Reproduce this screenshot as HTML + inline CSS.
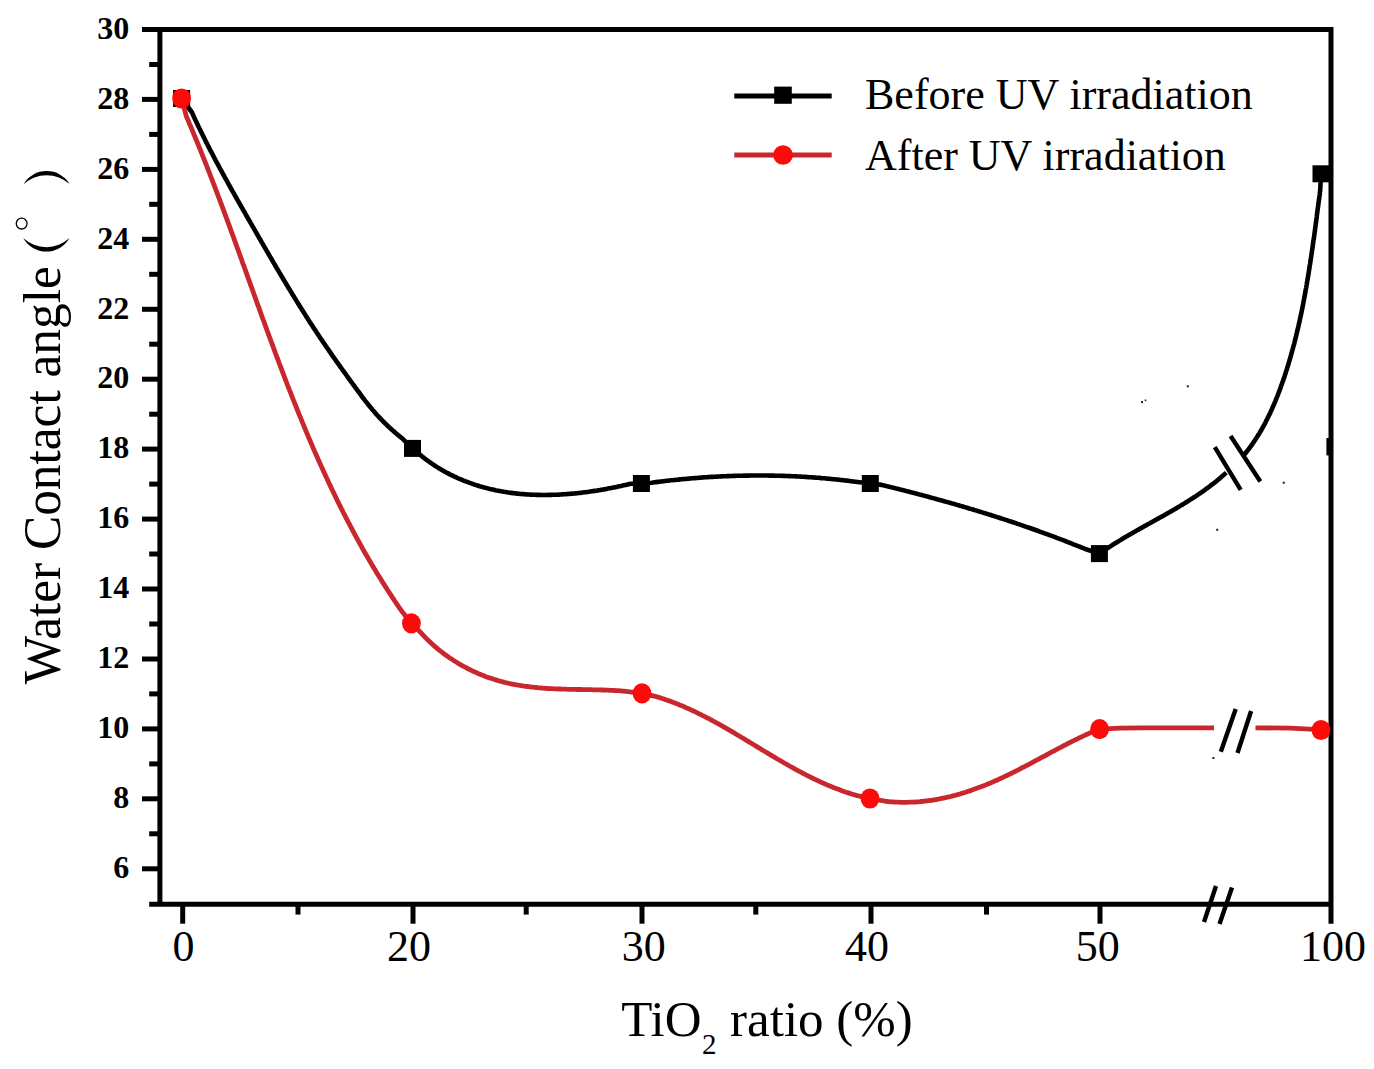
<!DOCTYPE html><html><head><meta charset="utf-8"><style>html,body{margin:0;padding:0;background:#fff;}svg{display:block;}</style></head><body><svg width="1374" height="1069" viewBox="0 0 1374 1069">
<rect width="1374" height="1069" fill="#fff"/>
<g stroke="#000" stroke-width="5" fill="none">
<path d="M142 29.5 H1333.5 M159.9 27 V906.7 M149.2 904.2 H1333.5 M1331 27 V923.7"/>
<path d="M142 868.8 H159.9"/>
<path d="M149.2 833.8 H159.9"/>
<path d="M142 798.8 H159.9"/>
<path d="M149.2 763.9 H159.9"/>
<path d="M142 728.9 H159.9"/>
<path d="M149.2 693.9 H159.9"/>
<path d="M142 659.0 H159.9"/>
<path d="M149.2 624.0 H159.9"/>
<path d="M142 589.0 H159.9"/>
<path d="M149.2 554.0 H159.9"/>
<path d="M142 519.1 H159.9"/>
<path d="M149.2 484.1 H159.9"/>
<path d="M142 449.1 H159.9"/>
<path d="M149.2 414.2 H159.9"/>
<path d="M142 379.2 H159.9"/>
<path d="M149.2 344.2 H159.9"/>
<path d="M142 309.3 H159.9"/>
<path d="M149.2 274.3 H159.9"/>
<path d="M142 239.3 H159.9"/>
<path d="M149.2 204.3 H159.9"/>
<path d="M142 169.4 H159.9"/>
<path d="M149.2 134.4 H159.9"/>
<path d="M142 99.4 H159.9"/>
<path d="M149.2 64.5 H159.9"/>
<path d="M182.7 904.2 V923.7"/>
<path d="M413 904.2 V923.7"/>
<path d="M642 904.2 V923.7"/>
<path d="M871 904.2 V923.7"/>
<path d="M1100 904.2 V923.7"/>
<path d="M298 904.2 V914.6"/>
<path d="M526.2 904.2 V914.6"/>
<path d="M755.8 904.2 V914.6"/>
<path d="M986.5 904.2 V914.6"/>
</g>
<rect x="1326.4" y="438" width="3" height="17.4" fill="#000"/>
<g font-family="Liberation Serif" font-weight="bold" font-size="32" text-anchor="end" fill="#000">
<text x="129.3" y="878.0">6</text>
<text x="129.3" y="808.0">8</text>
<text x="129.3" y="738.1">10</text>
<text x="129.3" y="668.2">12</text>
<text x="129.3" y="598.2">14</text>
<text x="129.3" y="528.3">16</text>
<text x="129.3" y="458.3">18</text>
<text x="129.3" y="388.4">20</text>
<text x="129.3" y="318.5">22</text>
<text x="129.3" y="248.5">24</text>
<text x="129.3" y="178.6">26</text>
<text x="129.3" y="108.6">28</text>
<text x="129.3" y="38.7">30</text>
</g>
<g font-family="Liberation Serif" font-size="44" fill="#000">
<text x="172.5" y="960.5">0</text>
<text x="387.0" y="960.5">20</text>
<text x="621.7" y="960.5">30</text>
<text x="845.1" y="960.5">40</text>
<text x="1075.7" y="960.5">50</text>
<text x="1300.0" y="960.5">100</text>
</g>
<g fill="none" stroke-linejoin="round" stroke-linecap="butt">
<path d="M181.6 98.5 L191.7 112.0 L192.4 113.4 L193.0 114.8 L193.6 116.1 L194.2 117.5 L194.9 118.9 L195.5 120.2 L196.1 121.6 L196.8 122.9 L197.4 124.3 L198.1 125.6 L198.7 127.0 L199.4 128.3 L200.0 129.7 L200.7 131.0 L201.3 132.4 L202.0 133.7 L202.7 135.1 L203.3 136.4 L204.0 137.7 L204.7 139.1 L205.3 140.4 L206.0 141.8 L206.7 143.1 L207.4 144.4 L208.0 145.8 L208.7 147.1 L209.4 148.4 L210.1 149.8 L210.8 151.1 L211.5 152.4 L212.2 153.7 L212.9 155.1 L213.5 156.4 L214.2 157.7 L214.9 159.0 L215.6 160.4 L216.3 161.7 L217.1 163.0 L217.8 164.3 L218.5 165.6 L219.2 167.0 L219.9 168.3 L220.6 169.6 L221.3 170.9 L222.0 172.2 L222.7 173.5 L223.5 174.9 L224.2 176.2 L224.9 177.5 L225.6 178.8 L226.4 180.1 L227.1 181.4 L227.8 182.7 L228.5 184.0 L229.3 185.4 L230.0 186.7 L230.7 188.0 L231.5 189.3 L232.2 190.6 L232.9 191.9 L233.7 193.2 L234.4 194.5 L235.1 195.8 L235.9 197.1 L236.6 198.4 L237.3 199.7 L238.1 201.0 L238.8 202.3 L239.6 203.6 L240.3 204.9 L241.0 206.2 L241.8 207.5 L242.5 208.8 L243.3 210.1 L244.0 211.4 L244.8 212.7 L245.5 214.0 L246.2 215.3 L247.0 216.6 L247.7 217.9 L248.5 219.2 L249.2 220.5 L250.0 221.8 L250.7 223.1 L251.5 224.4 L252.2 225.7 L253.0 227.0 L253.7 228.3 L254.5 229.6 L255.2 230.9 L256.0 232.2 L256.7 233.5 L257.4 234.8 L258.2 236.1 L258.9 237.4 L259.7 238.7 L260.4 240.0 L261.2 241.3 L261.9 242.6 L262.7 243.9 L263.4 245.2 L264.2 246.5 L264.9 247.8 L265.7 249.1 L266.4 250.4 L267.2 251.7 L267.9 253.0 L268.7 254.3 L269.5 255.6 L270.2 256.9 L271.0 258.2 L271.7 259.5 L272.5 260.8 L273.2 262.1 L274.0 263.4 L274.8 264.7 L275.5 266.0 L276.3 267.3 L277.0 268.5 L277.8 269.8 L278.6 271.1 L279.3 272.4 L280.1 273.7 L280.8 275.0 L281.6 276.3 L282.4 277.6 L283.1 278.9 L283.9 280.1 L284.7 281.4 L285.5 282.7 L286.2 284.0 L287.0 285.3 L287.8 286.6 L288.5 287.9 L289.3 289.1 L290.1 290.4 L290.9 291.7 L291.7 293.0 L292.4 294.3 L293.2 295.5 L294.0 296.8 L294.8 298.1 L295.6 299.4 L296.3 300.6 L297.1 301.9 L297.9 303.2 L298.7 304.4 L299.5 305.7 L300.3 307.0 L301.1 308.3 L301.9 309.5 L302.7 310.8 L303.5 312.1 L304.3 313.3 L305.1 314.6 L305.9 315.9 L306.7 317.1 L307.5 318.4 L308.3 319.6 L309.1 320.9 L309.9 322.2 L310.7 323.4 L311.6 324.7 L312.4 325.9 L313.2 327.2 L314.0 328.4 L314.8 329.7 L315.7 330.9 L316.5 332.2 L317.3 333.4 L318.1 334.7 L319.0 335.9 L319.8 337.2 L320.6 338.4 L321.5 339.6 L322.3 340.9 L323.1 342.1 L324.0 343.3 L324.8 344.6 L325.7 345.8 L326.5 347.1 L327.4 348.3 L328.2 349.5 L329.1 350.7 L329.9 352.0 L330.8 353.2 L331.6 354.4 L332.5 355.7 L333.3 356.9 L334.2 358.1 L335.1 359.3 L335.9 360.6 L336.8 361.8 L337.6 363.0 L338.5 364.2 L339.4 365.4 L340.2 366.6 L341.1 367.9 L342.0 369.1 L342.9 370.3 L343.7 371.5 L344.6 372.7 L345.5 373.9 L346.4 375.1 L347.2 376.4 L348.1 377.6 L349.0 378.8 L349.9 380.0 L350.7 381.2 L351.6 382.4 L352.5 383.6 L353.4 384.8 L354.3 386.0 L355.1 387.2 L356.0 388.4 L356.9 389.6 L357.8 390.8 L358.7 392.0 L359.6 393.2 L360.5 394.4 L361.3 395.6 L362.2 396.8 L363.1 398.0 L364.0 399.2 L364.9 400.4 L365.9 401.6 L366.8 402.7 L367.7 403.9 L368.6 405.1 L369.6 406.2 L370.5 407.4 L371.5 408.5 L372.4 409.7 L373.4 410.8 L374.4 411.9 L375.3 413.0 L376.3 414.2 L377.3 415.3 L378.4 416.4 L379.4 417.5 L380.4 418.5 L381.4 419.6 L382.5 420.7 L383.5 421.8 L384.6 422.8 L385.7 423.9 L386.7 424.9 L387.8 426.0 L388.9 427.0 L390.0 428.0 L391.1 429.0 L392.2 430.0 L393.4 431.0 L394.5 432.0 L395.6 433.0 L396.8 434.0 L398.0 435.0 L399.1 435.9 L400.3 436.9 L401.5 437.8 L402.7 438.8 L412.5 448.4 L420.1 454.8 L421.3 455.8 L422.5 456.8 L423.7 457.7 L425.0 458.7 L426.2 459.6 L427.5 460.5 L428.7 461.4 L430.0 462.3 L431.2 463.2 L432.5 464.1 L433.8 464.9 L435.0 465.8 L436.3 466.6 L437.6 467.4 L438.9 468.2 L440.2 469.0 L441.5 469.7 L442.8 470.5 L444.1 471.2 L445.4 472.0 L446.8 472.7 L448.1 473.4 L449.4 474.1 L450.7 474.8 L452.1 475.4 L453.4 476.1 L454.8 476.7 L456.1 477.3 L457.5 478.0 L458.8 478.6 L460.2 479.1 L461.6 479.7 L462.9 480.3 L464.3 480.8 L465.7 481.4 L467.1 481.9 L468.5 482.4 L469.8 482.9 L471.2 483.4 L472.6 483.9 L474.0 484.4 L475.4 484.9 L476.8 485.3 L478.2 485.7 L479.7 486.2 L481.1 486.6 L482.5 487.0 L483.9 487.4 L485.3 487.8 L486.8 488.1 L488.2 488.5 L489.6 488.9 L491.1 489.2 L492.5 489.5 L493.9 489.8 L495.4 490.2 L496.8 490.5 L498.3 490.7 L499.7 491.0 L501.2 491.3 L502.6 491.5 L504.1 491.8 L505.5 492.0 L507.0 492.3 L508.5 492.5 L509.9 492.7 L511.4 492.9 L512.9 493.1 L514.3 493.3 L515.8 493.4 L517.3 493.6 L518.8 493.7 L520.2 493.9 L521.7 494.0 L523.2 494.1 L524.7 494.3 L526.2 494.4 L527.6 494.5 L529.1 494.5 L530.6 494.6 L532.1 494.7 L533.6 494.8 L535.1 494.8 L536.6 494.9 L538.0 494.9 L539.5 494.9 L541.0 495.0 L542.5 495.0 L544.0 495.0 L545.5 495.0 L547.0 495.0 L548.5 494.9 L550.0 494.9 L551.5 494.9 L553.0 494.8 L554.5 494.8 L556.0 494.7 L557.5 494.7 L559.0 494.6 L560.5 494.5 L562.0 494.4 L563.5 494.3 L564.9 494.2 L566.4 494.1 L567.9 494.0 L569.4 493.9 L570.9 493.8 L572.4 493.6 L573.9 493.5 L575.4 493.4 L576.9 493.2 L578.4 493.0 L579.9 492.9 L581.4 492.7 L582.9 492.5 L584.3 492.3 L585.8 492.2 L587.3 492.0 L588.8 491.8 L590.3 491.5 L591.8 491.3 L593.2 491.1 L594.7 490.9 L596.2 490.7 L597.7 490.4 L599.1 490.2 L600.6 489.9 L602.1 489.7 L603.6 489.4 L605.0 489.2 L606.5 488.9 L607.9 488.6 L609.4 488.3 L610.9 488.1 L612.3 487.8 L613.8 487.5 L615.2 487.2 L616.7 486.9 L618.1 486.6 L619.6 486.3 L621.0 486.0 L622.5 485.6 L623.9 485.3 L625.3 485.0 L626.8 484.7 L628.2 484.3 L629.6 484.0 L631.1 483.7 L641.4 483.5 L651.7 482.7 L653.2 482.5 L654.7 482.3 L656.2 482.1 L657.6 481.9 L659.1 481.7 L660.6 481.5 L662.1 481.4 L663.6 481.2 L665.1 481.0 L666.5 480.8 L668.0 480.7 L669.5 480.5 L671.0 480.3 L672.5 480.2 L674.0 480.0 L675.4 479.9 L676.9 479.7 L678.4 479.6 L679.9 479.4 L681.4 479.3 L682.9 479.1 L684.3 479.0 L685.8 478.9 L687.3 478.7 L688.8 478.6 L690.3 478.5 L691.8 478.3 L693.3 478.2 L694.8 478.1 L696.2 478.0 L697.7 477.9 L699.2 477.7 L700.7 477.6 L702.2 477.5 L703.7 477.4 L705.2 477.3 L706.7 477.2 L708.1 477.1 L709.6 477.0 L711.1 476.9 L712.6 476.9 L714.1 476.8 L715.6 476.7 L717.1 476.6 L718.6 476.5 L720.1 476.5 L721.6 476.4 L723.0 476.3 L724.5 476.2 L726.0 476.2 L727.5 476.1 L729.0 476.1 L730.5 476.0 L732.0 476.0 L733.5 475.9 L735.0 475.9 L736.5 475.8 L738.0 475.8 L739.4 475.7 L740.9 475.7 L742.4 475.7 L743.9 475.6 L745.4 475.6 L746.9 475.6 L748.4 475.6 L749.9 475.5 L751.4 475.5 L752.9 475.5 L754.4 475.5 L755.9 475.5 L757.4 475.5 L758.8 475.5 L760.3 475.5 L761.8 475.5 L763.3 475.5 L764.8 475.5 L766.3 475.5 L767.8 475.5 L769.3 475.6 L770.8 475.6 L772.3 475.6 L773.8 475.6 L775.3 475.7 L776.7 475.7 L778.2 475.7 L779.7 475.8 L781.2 475.8 L782.7 475.9 L784.2 475.9 L785.7 476.0 L787.2 476.0 L788.7 476.1 L790.2 476.1 L791.7 476.2 L793.1 476.3 L794.6 476.3 L796.1 476.4 L797.6 476.5 L799.1 476.5 L800.6 476.6 L802.1 476.7 L803.6 476.8 L805.1 476.9 L806.6 477.0 L808.0 477.1 L809.5 477.2 L811.0 477.3 L812.5 477.4 L814.0 477.5 L815.5 477.6 L817.0 477.7 L818.5 477.8 L819.9 477.9 L821.4 478.1 L822.9 478.2 L824.4 478.3 L825.9 478.5 L827.4 478.6 L828.9 478.7 L830.4 478.9 L831.8 479.0 L833.3 479.2 L834.8 479.3 L836.3 479.5 L837.8 479.6 L839.3 479.8 L840.7 480.0 L842.2 480.1 L843.7 480.3 L845.2 480.5 L846.7 480.6 L848.2 480.8 L849.6 481.0 L851.1 481.2 L870.3 483.5 L881.7 484.9 L883.2 485.2 L884.6 485.6 L886.1 486.0 L887.5 486.3 L889.0 486.7 L890.4 487.0 L891.9 487.4 L893.3 487.8 L894.8 488.1 L896.3 488.5 L897.7 488.8 L899.2 489.2 L900.6 489.6 L902.1 489.9 L903.5 490.3 L905.0 490.7 L906.4 491.1 L907.9 491.4 L909.3 491.8 L910.8 492.2 L912.2 492.6 L913.7 492.9 L915.1 493.3 L916.6 493.7 L918.0 494.1 L919.5 494.5 L920.9 494.8 L922.4 495.2 L923.8 495.6 L925.3 496.0 L926.7 496.4 L928.2 496.8 L929.6 497.2 L931.1 497.6 L932.5 498.0 L933.9 498.4 L935.4 498.8 L936.8 499.2 L938.3 499.6 L939.7 500.0 L941.2 500.4 L942.6 500.8 L944.1 501.2 L945.5 501.6 L946.9 502.0 L948.4 502.4 L949.8 502.8 L951.3 503.2 L952.7 503.6 L954.2 504.0 L955.6 504.4 L957.0 504.9 L958.5 505.3 L959.9 505.7 L961.4 506.1 L962.8 506.5 L964.2 507.0 L965.7 507.4 L967.1 507.8 L968.5 508.2 L970.0 508.7 L971.4 509.1 L972.9 509.5 L974.3 510.0 L975.7 510.4 L977.2 510.8 L978.6 511.3 L980.0 511.7 L981.5 512.1 L982.9 512.6 L984.3 513.0 L985.8 513.5 L987.2 513.9 L988.6 514.4 L990.0 514.8 L991.5 515.3 L992.9 515.7 L994.3 516.2 L995.8 516.6 L997.2 517.1 L998.6 517.5 L1000.0 518.0 L1001.5 518.5 L1002.9 518.9 L1004.3 519.4 L1005.7 519.9 L1007.2 520.3 L1008.6 520.8 L1010.0 521.3 L1011.4 521.7 L1012.9 522.2 L1014.3 522.7 L1015.7 523.2 L1017.1 523.7 L1018.5 524.1 L1020.0 524.6 L1021.4 525.1 L1022.8 525.6 L1024.2 526.1 L1025.6 526.6 L1027.1 527.1 L1028.5 527.5 L1029.9 528.0 L1031.3 528.5 L1032.7 529.0 L1034.1 529.5 L1035.5 530.0 L1037.0 530.5 L1038.4 531.0 L1039.8 531.6 L1041.2 532.1 L1042.6 532.6 L1044.0 533.1 L1045.4 533.6 L1046.8 534.1 L1048.2 534.6 L1049.6 535.2 L1051.0 535.7 L1052.4 536.2 L1053.8 536.7 L1055.3 537.2 L1056.7 537.8 L1058.1 538.3 L1059.5 538.8 L1060.9 539.4 L1062.3 539.9 L1063.7 540.4 L1065.1 541.0 L1066.5 541.5 L1067.9 542.1 L1069.3 542.6 L1070.6 543.2 L1072.0 543.7 L1073.4 544.3 L1074.8 544.8 L1076.2 545.4 L1077.6 545.9 L1079.0 546.5 L1080.4 547.0 L1081.8 547.6 L1083.2 548.2 L1084.6 548.7 L1086.0 549.3 L1099.4 553.6 L1111.5 545.6 L1112.7 544.8 L1114.0 544.0 L1115.3 543.2 L1116.5 542.5 L1117.8 541.7 L1119.1 540.9 L1120.4 540.1 L1121.6 539.3 L1122.9 538.6 L1124.2 537.8 L1125.5 537.0 L1126.8 536.3 L1128.1 535.5 L1129.4 534.8 L1130.7 534.0 L1132.0 533.3 L1133.3 532.5 L1134.6 531.8 L1135.9 531.0 L1137.2 530.3 L1138.5 529.6 L1139.8 528.8 L1141.1 528.1 L1142.4 527.4 L1143.7 526.6 L1145.0 525.9 L1146.3 525.2 L1147.6 524.4 L1148.9 523.7 L1150.3 523.0 L1151.6 522.2 L1152.9 521.5 L1154.2 520.8 L1155.5 520.1 L1156.8 519.3 L1158.1 518.6 L1159.4 517.9 L1160.7 517.1 L1162.1 516.4 L1163.4 515.7 L1164.7 514.9 L1166.0 514.2 L1167.3 513.4 L1168.6 512.7 L1169.9 512.0 L1171.2 511.2 L1172.5 510.5 L1173.8 509.7 L1175.1 509.0 L1176.4 508.2 L1177.7 507.4 L1179.0 506.7 L1180.2 505.9 L1181.5 505.1 L1182.8 504.4 L1184.1 503.6 L1185.4 502.8 L1186.6 502.0 L1187.9 501.2 L1189.2 500.4 L1190.4 499.6 L1191.7 498.8 L1193.0 498.0 L1194.2 497.2 L1195.5 496.4 L1196.7 495.6 L1198.0 494.7 L1199.2 493.9 L1200.4 493.0 L1201.7 492.2 L1202.9 491.3 L1204.1 490.5 L1205.3 489.6 L1206.5 488.7 L1207.7 487.8 L1208.9 487.0 L1210.1 486.1 L1211.3 485.1 L1212.5 484.2 L1213.7 483.3 L1214.9 482.4 L1216.1 481.4 L1217.2 480.5 L1218.4 479.5 L1219.5 478.6 L1220.7 477.6 L1221.8 476.6 L1223.0 475.6 L1224.1 474.6 L1225.2 473.6 L1226.3 472.6" stroke="#000" stroke-width="4.6"/>
<path d="M1244.0 455.0 L1245.0 453.8 L1245.9 452.7 L1246.8 451.5 L1247.8 450.3 L1248.7 449.1 L1249.6 447.9 L1250.5 446.7 L1251.3 445.5 L1252.2 444.3 L1253.0 443.1 L1253.9 441.9 L1254.7 440.6 L1255.5 439.4 L1256.3 438.2 L1257.1 436.9 L1257.9 435.6 L1258.7 434.4 L1259.5 433.1 L1260.2 431.8 L1261.0 430.6 L1261.7 429.3 L1262.4 428.0 L1263.2 426.7 L1263.9 425.4 L1264.6 424.1 L1265.3 422.8 L1265.9 421.5 L1266.6 420.2 L1267.3 418.8 L1267.9 417.5 L1268.6 416.2 L1269.2 414.9 L1269.9 413.5 L1270.5 412.2 L1271.1 410.8 L1271.7 409.5 L1272.3 408.1 L1272.9 406.8 L1273.5 405.4 L1274.1 404.1 L1274.7 402.7 L1275.3 401.3 L1275.8 399.9 L1276.4 398.6 L1276.9 397.2 L1277.5 395.8 L1278.0 394.4 L1278.5 393.0 L1279.1 391.7 L1279.6 390.3 L1280.1 388.9 L1280.6 387.5 L1281.1 386.1 L1281.6 384.7 L1282.1 383.3 L1282.6 381.9 L1283.1 380.5 L1283.6 379.1 L1284.1 377.7 L1284.6 376.2 L1285.0 374.8 L1285.5 373.4 L1285.9 372.0 L1286.4 370.6 L1286.9 369.2 L1287.3 367.7 L1287.7 366.3 L1288.2 364.9 L1288.6 363.5 L1289.0 362.0 L1289.5 360.6 L1289.9 359.2 L1290.3 357.7 L1290.7 356.3 L1291.1 354.9 L1291.5 353.4 L1291.9 352.0 L1292.3 350.5 L1292.7 349.1 L1293.1 347.7 L1293.5 346.2 L1293.9 344.8 L1294.3 343.3 L1294.6 341.9 L1295.0 340.4 L1295.4 339.0 L1295.7 337.5 L1296.1 336.1 L1296.4 334.6 L1296.8 333.2 L1297.1 331.7 L1297.5 330.2 L1297.8 328.8 L1298.2 327.3 L1298.5 325.9 L1298.8 324.4 L1299.2 322.9 L1299.5 321.5 L1299.8 320.0 L1300.1 318.5 L1300.4 317.1 L1300.8 315.6 L1301.1 314.1 L1301.4 312.7 L1301.7 311.2 L1302.0 309.7 L1302.3 308.3 L1302.6 306.8 L1302.9 305.3 L1303.2 303.8 L1303.4 302.4 L1303.7 300.9 L1304.0 299.4 L1304.3 297.9 L1304.6 296.5 L1304.8 295.0 L1305.1 293.5 L1305.4 292.0 L1305.6 290.5 L1305.9 289.1 L1306.2 287.6 L1306.4 286.1 L1306.7 284.6 L1306.9 283.1 L1307.2 281.7 L1307.4 280.2 L1307.7 278.7 L1307.9 277.2 L1308.2 275.7 L1308.4 274.2 L1308.7 272.8 L1308.9 271.3 L1309.1 269.8 L1309.4 268.3 L1309.6 266.8 L1309.8 265.3 L1310.1 263.9 L1310.3 262.4 L1310.5 260.9 L1310.7 259.4 L1311.0 257.9 L1311.2 256.4 L1311.4 255.0 L1311.6 253.5 L1311.9 252.0 L1312.1 250.5 L1312.3 249.0 L1312.5 247.5 L1312.7 246.1 L1312.9 244.6 L1313.1 243.1 L1313.3 241.6 L1313.5 240.1 L1313.8 238.7 L1314.0 237.2 L1314.2 235.7 L1314.4 234.2 L1314.6 232.7 L1314.8 231.3 L1315.0 229.8 L1315.2 228.3 L1315.4 226.8 L1315.6 225.4 L1315.8 223.9 L1316.0 222.4 L1316.2 220.9 L1316.4 219.5 L1316.6 218.0 L1316.8 216.5 L1316.9 215.0 L1317.1 213.6 L1317.3 212.1 L1317.5 210.6 L1317.7 209.2 L1317.9 207.7 L1318.1 206.2 L1318.3 204.8 L1318.5 203.3 L1318.7 201.8 L1318.9 200.4 L1319.1 198.9 L1319.3 197.5 L1319.5 196.0 L1319.7 194.5 L1319.8 193.1 L1320.0 191.6 L1320.2 190.2 L1321.0 173.8" stroke="#000" stroke-width="4.6"/>
<path d="M181.6 98.5 L186.3 116.2 L186.9 117.6 L187.5 119.0 L188.1 120.3 L188.7 121.7 L189.2 123.1 L189.8 124.5 L190.4 125.8 L191.0 127.2 L191.6 128.6 L192.1 129.9 L192.7 131.3 L193.3 132.7 L193.8 134.1 L194.4 135.5 L195.0 136.8 L195.5 138.2 L196.1 139.6 L196.7 141.0 L197.2 142.3 L197.8 143.7 L198.4 145.1 L198.9 146.5 L199.5 147.9 L200.0 149.3 L200.6 150.6 L201.2 152.0 L201.7 153.4 L202.3 154.8 L202.8 156.2 L203.4 157.6 L203.9 159.0 L204.5 160.3 L205.0 161.7 L205.6 163.1 L206.1 164.5 L206.7 165.9 L207.2 167.3 L207.7 168.7 L208.3 170.1 L208.8 171.5 L209.4 172.9 L209.9 174.2 L210.4 175.6 L211.0 177.0 L211.5 178.4 L212.1 179.8 L212.6 181.2 L213.1 182.6 L213.7 184.0 L214.2 185.4 L214.7 186.8 L215.3 188.2 L215.8 189.6 L216.3 191.0 L216.9 192.4 L217.4 193.8 L217.9 195.2 L218.4 196.6 L219.0 198.0 L219.5 199.4 L220.0 200.8 L220.5 202.2 L221.1 203.6 L221.6 205.0 L222.1 206.4 L222.6 207.8 L223.2 209.2 L223.7 210.6 L224.2 212.0 L224.7 213.4 L225.2 214.8 L225.8 216.2 L226.3 217.6 L226.8 219.0 L227.3 220.4 L227.8 221.8 L228.3 223.2 L228.9 224.6 L229.4 226.0 L229.9 227.4 L230.4 228.9 L230.9 230.3 L231.4 231.7 L231.9 233.1 L232.4 234.5 L233.0 235.9 L233.5 237.3 L234.0 238.7 L234.5 240.1 L235.0 241.5 L235.5 242.9 L236.0 244.3 L236.5 245.7 L237.0 247.2 L237.6 248.6 L238.1 250.0 L238.6 251.4 L239.1 252.8 L239.6 254.2 L240.1 255.6 L240.6 257.0 L241.1 258.4 L241.6 259.8 L242.1 261.2 L242.6 262.7 L243.1 264.1 L243.7 265.5 L244.2 266.9 L244.7 268.3 L245.2 269.7 L245.7 271.1 L246.2 272.5 L246.7 273.9 L247.2 275.4 L247.7 276.8 L248.2 278.2 L248.7 279.6 L249.2 281.0 L249.7 282.4 L250.2 283.8 L250.7 285.2 L251.3 286.6 L251.8 288.1 L252.3 289.5 L252.8 290.9 L253.3 292.3 L253.8 293.7 L254.3 295.1 L254.8 296.5 L255.3 297.9 L255.8 299.3 L256.3 300.7 L256.8 302.2 L257.3 303.6 L257.8 305.0 L258.4 306.4 L258.9 307.8 L259.4 309.2 L259.9 310.6 L260.4 312.0 L260.9 313.4 L261.4 314.9 L261.9 316.3 L262.4 317.7 L262.9 319.1 L263.5 320.5 L264.0 321.9 L264.5 323.3 L265.0 324.7 L265.5 326.1 L266.0 327.5 L266.5 328.9 L267.0 330.3 L267.6 331.8 L268.1 333.2 L268.6 334.6 L269.1 336.0 L269.6 337.4 L270.1 338.8 L270.7 340.2 L271.2 341.6 L271.7 343.0 L272.2 344.4 L272.7 345.8 L273.3 347.2 L273.8 348.6 L274.3 350.0 L274.8 351.4 L275.3 352.8 L275.9 354.3 L276.4 355.7 L276.9 357.1 L277.4 358.5 L278.0 359.9 L278.5 361.3 L279.0 362.7 L279.5 364.1 L280.1 365.5 L280.6 366.9 L281.1 368.3 L281.7 369.7 L282.2 371.1 L282.7 372.5 L283.3 373.9 L283.8 375.3 L284.3 376.7 L284.9 378.1 L285.4 379.5 L285.9 380.9 L286.5 382.3 L287.0 383.7 L287.5 385.1 L288.1 386.5 L288.6 387.8 L289.2 389.2 L289.7 390.6 L290.3 392.0 L290.8 393.4 L291.3 394.8 L291.9 396.2 L292.4 397.6 L293.0 399.0 L293.5 400.4 L294.1 401.8 L294.6 403.2 L295.2 404.6 L295.8 405.9 L296.3 407.3 L296.9 408.7 L297.4 410.1 L298.0 411.5 L298.5 412.9 L299.1 414.3 L299.7 415.7 L300.2 417.0 L300.8 418.4 L301.4 419.8 L301.9 421.2 L302.5 422.6 L303.1 424.0 L303.6 425.3 L304.2 426.7 L304.8 428.1 L305.4 429.5 L305.9 430.9 L306.5 432.2 L307.1 433.6 L307.7 435.0 L308.2 436.4 L308.8 437.7 L309.4 439.1 L310.0 440.5 L310.6 441.9 L311.2 443.2 L311.8 444.6 L312.3 446.0 L312.9 447.4 L313.5 448.7 L314.1 450.1 L314.7 451.5 L315.3 452.8 L315.9 454.2 L316.5 455.6 L317.1 456.9 L317.7 458.3 L318.3 459.7 L318.9 461.0 L319.5 462.4 L320.1 463.8 L320.8 465.1 L321.4 466.5 L322.0 467.8 L322.6 469.2 L323.2 470.6 L323.8 471.9 L324.5 473.3 L325.1 474.6 L325.7 476.0 L326.3 477.3 L327.0 478.7 L327.6 480.1 L328.2 481.4 L328.8 482.8 L329.5 484.1 L330.1 485.5 L330.8 486.8 L331.4 488.2 L332.0 489.5 L332.7 490.9 L333.3 492.2 L334.0 493.5 L334.6 494.9 L335.3 496.2 L335.9 497.6 L336.6 498.9 L337.2 500.3 L337.9 501.6 L338.5 502.9 L339.2 504.3 L339.9 505.6 L340.5 506.9 L341.2 508.3 L341.9 509.6 L342.5 510.9 L343.2 512.3 L343.9 513.6 L344.6 514.9 L345.3 516.3 L345.9 517.6 L346.6 518.9 L347.3 520.2 L348.0 521.6 L348.7 522.9 L349.4 524.2 L350.1 525.5 L350.8 526.9 L351.5 528.2 L352.2 529.5 L352.9 530.8 L353.6 532.1 L354.3 533.5 L355.0 534.8 L355.7 536.1 L356.4 537.4 L357.1 538.7 L357.8 540.0 L358.6 541.3 L359.3 542.6 L360.0 543.9 L360.7 545.2 L361.5 546.5 L362.2 547.9 L362.9 549.2 L363.7 550.5 L364.4 551.8 L365.1 553.1 L365.9 554.4 L366.6 555.7 L367.4 556.9 L368.1 558.2 L368.9 559.5 L369.6 560.8 L370.4 562.1 L371.2 563.4 L371.9 564.7 L372.7 566.0 L373.4 567.3 L374.2 568.6 L375.0 569.8 L375.8 571.1 L376.5 572.4 L377.3 573.7 L378.1 575.0 L378.9 576.2 L379.7 577.5 L380.5 578.8 L381.3 580.1 L382.1 581.3 L382.8 582.6 L383.7 583.9 L384.5 585.1 L385.3 586.4 L386.1 587.7 L386.9 588.9 L387.7 590.2 L388.5 591.5 L389.3 592.7 L390.2 594.0 L391.0 595.2 L391.8 596.5 L392.6 597.8 L393.5 599.0 L394.3 600.3 L395.1 601.5 L396.0 602.8 L396.8 604.0 L397.7 605.3 L398.5 606.5 L399.4 607.8 L400.2 609.0 L401.1 610.2 L402.0 611.5 L411.4 623.3 L420.9 632.8 L422.0 633.9 L423.1 635.1 L424.1 636.2 L425.2 637.3 L426.3 638.5 L427.4 639.6 L428.6 640.6 L429.7 641.7 L430.8 642.8 L431.9 643.8 L433.1 644.9 L434.2 645.9 L435.4 646.9 L436.6 647.9 L437.7 648.9 L438.9 649.8 L440.1 650.8 L441.3 651.7 L442.5 652.6 L443.7 653.6 L444.9 654.5 L446.1 655.4 L447.4 656.2 L448.6 657.1 L449.8 658.0 L451.1 658.8 L452.3 659.6 L453.6 660.5 L454.9 661.3 L456.1 662.0 L457.4 662.8 L458.7 663.6 L460.0 664.3 L461.3 665.1 L462.6 665.8 L463.9 666.5 L465.2 667.2 L466.5 667.9 L467.8 668.6 L469.1 669.3 L470.5 669.9 L471.8 670.6 L473.1 671.2 L474.5 671.8 L475.8 672.4 L477.2 673.0 L478.5 673.6 L479.9 674.2 L481.3 674.8 L482.6 675.3 L484.0 675.8 L485.4 676.4 L486.8 676.9 L488.2 677.4 L489.6 677.9 L491.0 678.3 L492.4 678.8 L493.8 679.3 L495.2 679.7 L496.6 680.1 L498.0 680.6 L499.4 681.0 L500.9 681.4 L502.3 681.7 L503.7 682.1 L505.2 682.5 L506.6 682.8 L508.0 683.2 L509.5 683.5 L510.9 683.8 L512.4 684.1 L513.8 684.4 L515.3 684.7 L516.8 684.9 L518.2 685.2 L519.7 685.4 L521.2 685.7 L522.6 685.9 L524.1 686.1 L525.6 686.3 L527.1 686.5 L528.5 686.7 L530.0 686.9 L531.5 687.1 L533.0 687.2 L534.5 687.4 L536.0 687.5 L537.5 687.7 L538.9 687.8 L540.4 687.9 L541.9 688.1 L543.4 688.2 L544.9 688.3 L546.4 688.4 L547.9 688.5 L549.4 688.6 L550.9 688.6 L552.4 688.7 L553.9 688.8 L555.5 688.9 L557.0 688.9 L558.5 689.0 L560.0 689.0 L561.5 689.1 L563.0 689.1 L564.5 689.2 L566.0 689.2 L567.5 689.3 L569.0 689.3 L570.5 689.3 L572.1 689.4 L573.6 689.4 L575.1 689.4 L576.6 689.5 L578.1 689.5 L579.6 689.5 L581.1 689.5 L582.6 689.6 L584.1 689.6 L585.6 689.6 L587.1 689.6 L588.7 689.7 L590.2 689.7 L591.7 689.7 L593.2 689.8 L594.7 689.8 L596.2 689.8 L597.7 689.9 L599.2 689.9 L600.7 689.9 L602.2 690.0 L603.6 690.0 L605.1 690.1 L606.6 690.1 L608.1 690.2 L609.6 690.3 L611.1 690.3 L612.6 690.4 L614.1 690.5 L615.5 690.6 L617.0 690.6 L618.5 690.7 L620.0 690.8 L621.4 690.9 L622.9 691.1 L624.4 691.2 L625.8 691.3 L642.0 693.3 L656.5 696.7 L657.9 697.1 L659.4 697.5 L660.8 698.0 L662.3 698.5 L663.7 698.9 L665.1 699.4 L666.5 699.9 L667.9 700.4 L669.4 700.9 L670.8 701.4 L672.2 702.0 L673.6 702.5 L675.0 703.0 L676.4 703.6 L677.8 704.1 L679.1 704.7 L680.5 705.3 L681.9 705.8 L683.3 706.4 L684.7 707.0 L686.0 707.6 L687.4 708.2 L688.8 708.8 L690.1 709.5 L691.5 710.1 L692.8 710.7 L694.2 711.3 L695.5 712.0 L696.9 712.6 L698.2 713.3 L699.6 714.0 L700.9 714.6 L702.2 715.3 L703.6 716.0 L704.9 716.6 L706.2 717.3 L707.5 718.0 L708.9 718.7 L710.2 719.4 L711.5 720.1 L712.8 720.8 L714.1 721.5 L715.4 722.3 L716.8 723.0 L718.1 723.7 L719.4 724.4 L720.7 725.2 L722.0 725.9 L723.3 726.6 L724.6 727.4 L725.9 728.1 L727.2 728.9 L728.5 729.6 L729.8 730.4 L731.1 731.1 L732.4 731.9 L733.7 732.7 L735.0 733.4 L736.2 734.2 L737.5 735.0 L738.8 735.7 L740.1 736.5 L741.4 737.3 L742.7 738.0 L744.0 738.8 L745.3 739.6 L746.5 740.4 L747.8 741.1 L749.1 741.9 L750.4 742.7 L751.7 743.5 L753.0 744.3 L754.2 745.0 L755.5 745.8 L756.8 746.6 L758.1 747.4 L759.4 748.2 L760.7 748.9 L761.9 749.7 L763.2 750.5 L764.5 751.3 L765.8 752.0 L767.1 752.8 L768.4 753.6 L769.7 754.4 L770.9 755.1 L772.2 755.9 L773.5 756.7 L774.8 757.4 L776.1 758.2 L777.4 759.0 L778.7 759.7 L780.0 760.5 L781.3 761.2 L782.6 762.0 L783.9 762.8 L785.2 763.5 L786.5 764.2 L787.8 765.0 L789.1 765.7 L790.4 766.5 L791.7 767.2 L793.0 767.9 L794.3 768.6 L795.6 769.4 L797.0 770.1 L798.3 770.8 L799.6 771.5 L800.9 772.2 L802.2 772.9 L803.6 773.6 L804.9 774.3 L806.2 775.0 L807.5 775.7 L808.9 776.3 L810.2 777.0 L811.6 777.7 L812.9 778.3 L814.3 779.0 L815.6 779.6 L817.0 780.3 L818.3 780.9 L819.7 781.5 L821.0 782.1 L822.4 782.8 L823.8 783.4 L825.1 784.0 L826.5 784.6 L827.9 785.2 L829.3 785.7 L830.6 786.3 L832.0 786.9 L833.4 787.5 L834.8 788.0 L836.2 788.6 L837.6 789.1 L839.0 789.6 L840.4 790.1 L841.8 790.7 L843.2 791.2 L844.7 791.7 L846.1 792.2 L847.5 792.6 L849.0 793.1 L850.4 793.6 L851.8 794.0 L853.3 794.5 L854.7 794.9 L856.2 795.3 L870.0 798.5 L886.2 801.3 L887.8 801.5 L889.3 801.6 L890.9 801.8 L892.4 801.9 L894.0 802.0 L895.5 802.1 L897.1 802.1 L898.6 802.2 L900.1 802.3 L901.7 802.3 L903.2 802.3 L904.7 802.3 L906.2 802.3 L907.7 802.3 L909.3 802.2 L910.8 802.2 L912.3 802.1 L913.8 802.1 L915.3 802.0 L916.8 801.9 L918.3 801.8 L919.8 801.7 L921.3 801.5 L922.8 801.4 L924.2 801.2 L925.7 801.0 L927.2 800.9 L928.7 800.7 L930.2 800.5 L931.6 800.3 L933.1 800.0 L934.6 799.8 L936.0 799.5 L937.5 799.3 L939.0 799.0 L940.4 798.7 L941.9 798.4 L943.3 798.1 L944.8 797.8 L946.2 797.5 L947.7 797.2 L949.1 796.8 L950.5 796.5 L952.0 796.1 L953.4 795.7 L954.9 795.4 L956.3 795.0 L957.7 794.6 L959.1 794.2 L960.6 793.8 L962.0 793.3 L963.4 792.9 L964.8 792.5 L966.2 792.0 L967.6 791.5 L969.0 791.1 L970.5 790.6 L971.9 790.1 L973.3 789.6 L974.7 789.1 L976.1 788.6 L977.4 788.1 L978.8 787.6 L980.2 787.1 L981.6 786.5 L983.0 786.0 L984.4 785.4 L985.8 784.9 L987.2 784.3 L988.5 783.7 L989.9 783.2 L991.3 782.6 L992.7 782.0 L994.0 781.4 L995.4 780.8 L996.8 780.2 L998.1 779.6 L999.5 779.0 L1000.8 778.3 L1002.2 777.7 L1003.5 777.1 L1004.9 776.4 L1006.3 775.8 L1007.6 775.1 L1009.0 774.5 L1010.3 773.8 L1011.6 773.2 L1013.0 772.5 L1014.3 771.8 L1015.7 771.2 L1017.0 770.5 L1018.3 769.8 L1019.7 769.1 L1021.0 768.4 L1022.3 767.7 L1023.7 767.0 L1025.0 766.4 L1026.3 765.7 L1027.7 765.0 L1029.0 764.3 L1030.3 763.6 L1031.7 762.8 L1033.0 762.1 L1034.3 761.4 L1035.6 760.7 L1036.9 760.0 L1038.3 759.3 L1039.6 758.6 L1040.9 757.9 L1042.2 757.2 L1043.6 756.5 L1044.9 755.8 L1046.2 755.1 L1047.5 754.3 L1048.8 753.6 L1050.2 752.9 L1051.5 752.2 L1052.8 751.5 L1054.1 750.8 L1055.4 750.1 L1056.8 749.4 L1058.1 748.7 L1059.4 748.0 L1060.7 747.3 L1062.0 746.6 L1063.3 745.9 L1064.7 745.2 L1066.0 744.6 L1067.3 743.9 L1068.6 743.2 L1070.0 742.5 L1071.3 741.9 L1072.6 741.2 L1073.9 740.5 L1075.3 739.9 L1076.6 739.2 L1077.9 738.6 L1079.2 737.9 L1080.6 737.3 L1081.9 736.7 L1083.2 736.0 L1084.6 735.4 L1085.9 734.8 L1087.2 734.2 L1088.6 733.6 L1099.6 729.2 L1120.0 728.2 L1142.1 727.9 L1214.0 727.8" stroke="#c8282d" stroke-width="4.8"/>
<path d="M1255.5 727.8 L1290 728.2 L1310 729.2 L1321 730" stroke="#c8282d" stroke-width="4.8"/>
</g>
<g stroke="#000" stroke-width="4.4" stroke-linecap="butt">
<path d="M1204 922 L1216 886 M1219.5 924 L1232 887.5"/>
<path d="M1220.8 751.8 L1235.7 709 M1237.5 753 L1251.1 711"/>
<path d="M1214.8 447.2 L1240.7 489.9 M1230.6 436 L1260.3 481.5"/>
</g>
<rect x="173.1" y="90.0" width="17" height="17" fill="#000"/>
<rect x="404.0" y="439.9" width="17" height="17" fill="#000"/>
<rect x="632.9" y="475.0" width="17" height="17" fill="#000"/>
<rect x="861.8" y="475.0" width="17" height="17" fill="#000"/>
<rect x="1090.9" y="545.1" width="17" height="17" fill="#000"/>
<rect x="1312.5" y="165.3" width="17" height="17" fill="#000"/>
<ellipse cx="181.6" cy="98.5" rx="9.4" ry="10.1" fill="#ff0a0a"/>
<ellipse cx="411.4" cy="623.3" rx="9.4" ry="10.1" fill="#ff0a0a"/>
<ellipse cx="642.0" cy="693.3" rx="9.4" ry="10.1" fill="#ff0a0a"/>
<ellipse cx="870.0" cy="798.5" rx="9.4" ry="10.1" fill="#ff0a0a"/>
<ellipse cx="1099.6" cy="729.2" rx="9.4" ry="10.1" fill="#ff0a0a"/>
<ellipse cx="1321" cy="730" rx="9.4" ry="10.1" fill="#ff0a0a"/>
<path d="M734.3 96 H831.7" stroke="#000" stroke-width="5"/>
<rect x="774.2" y="86.6" width="17.6" height="17.2" fill="#000"/>
<path d="M734.3 155 H831.7" stroke="#c8282d" stroke-width="5"/>
<circle cx="783" cy="155" r="9.8" fill="#ff0a0a"/>
<g font-family="Liberation Serif" font-size="44" fill="#000">
<text x="865" y="108.5">Before UV irradiation</text>
<text x="865" y="170">After UV irradiation</text>
</g>
<g font-family="Liberation Serif" fill="#000">
<text x="621.2" y="1035.9" font-size="51">TiO</text>
<text x="701.9" y="1053.6" font-size="29">2</text>
<text x="730.1" y="1035.9" font-size="51">ratio (%)</text>
</g>
<text transform="translate(59.6 684.2) rotate(-90)" font-family="Liberation Serif" font-size="52" textLength="417.9" lengthAdjust="spacingAndGlyphs" fill="#000">Water Contact angle</text>
<path d="M23.7 184 A26.6 26.6 0 0 1 69.5 184 A34 34 0 0 0 23.7 184 Z" fill="#000"/>
<path d="M23.2 238.1 A26.6 26.6 0 0 0 69.5 238.1 A34 34 0 0 1 23.2 238.1 Z" fill="#000"/>
<circle cx="21.65" cy="223.6" r="5.4" fill="none" stroke="#000" stroke-width="1.3"/>
<rect x="1141.0" y="401.1" width="2" height="2" fill="#222"/>
<rect x="1144.7" y="399.5" width="1.6" height="1.6" fill="#222"/>
<rect x="1186.8" y="385.3" width="2" height="2" fill="#222"/>
<rect x="1282.7" y="481.7" width="2" height="2" fill="#222"/>
<rect x="1216.2" y="528.8" width="2" height="2" fill="#222"/>
<rect x="1212.4" y="757.0" width="2" height="2" fill="#222"/>
</svg></body></html>
